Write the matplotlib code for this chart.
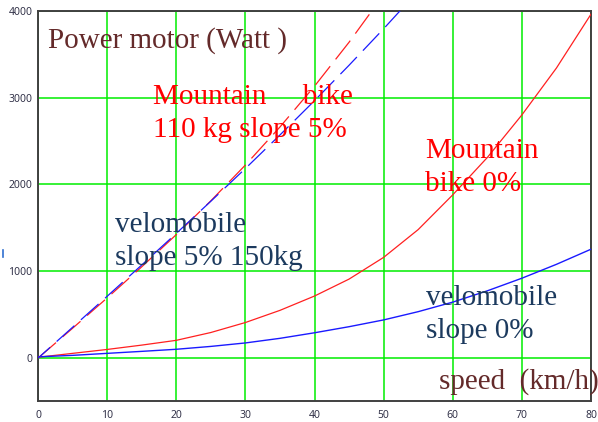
import matplotlib
matplotlib.use("Agg")
import matplotlib.pyplot as plt
from matplotlib.lines import Line2D

# ---- data ----
speed = [0, 5, 10, 15, 20, 25, 30, 35, 40, 45, 50, 55, 60, 65, 70, 75, 80]
mtb_flat = [10, 55, 100, 150, 205, 295, 410, 550, 715, 910, 1160, 1480, 1880, 2310, 2800, 3340, 3960]
velo_flat = [15, 32, 55, 78, 102, 135, 175, 228, 292, 362, 440, 535, 645, 775, 920, 1080, 1254]

speed_mtb_slope = [0, 5, 10, 15, 20, 25, 30, 35, 40, 45, 50]
mtb_slope = [0, 344, 693, 1051, 1422, 1811, 2223, 2661, 3131, 3637, 4184]
speed_velo_slope = [0, 5, 10, 15, 20, 25, 30, 35, 40, 45, 50, 55]
velo_slope = [0, 355, 712, 1072, 1436, 1806, 2183, 2569, 2964, 3372, 3792, 4227]

x_ticks = [0, 10, 20, 30, 40, 50, 60, 70, 80]
y_ticks = [0, 1000, 2000, 3000, 4000]

W, H = 598, 422
fig = plt.figure(figsize=(W / 100, H / 100), dpi=100)
ax = fig.add_axes([38 / W, 1 - 400.7 / H, (591 - 38) / W, (400.7 - 10.7) / H])

ax.set_xlim(0, 80)
ax.set_ylim(-490, 4000)
ax.set_xticks(x_ticks)
ax.set_yticks(y_ticks)
ax.grid(True, color="#00ee00", lw=1.1, zorder=0)
ax.set_axisbelow(True)
ax.tick_params(length=0, labelsize=7.5, labelcolor="#34344a")
ax.tick_params(axis="y", pad=4)
ax.tick_params(axis="x", pad=7)
for lab in ax.get_xticklabels() + ax.get_yticklabels():
    lab.set_fontfamily("Noto Sans")
for s in ax.spines.values():
    s.set_color("#404040")
    s.set_linewidth(1.4)

ax.plot(speed, mtb_flat, color="#ff2020", lw=0.9, zorder=3)
ax.plot(speed, velo_flat, color="#1a1aff", lw=1.0, zorder=3)
ax.plot(speed_mtb_slope, mtb_slope, color="#ff2020", lw=0.9, zorder=3,
        linestyle=(0, (19, 7)))
ax.plot(speed_velo_slope, velo_slope, color="#1a1aff", lw=0.9, zorder=3,
        linestyle=(6, (19, 7)))

serif = "Liberation Serif"
brown = "#642a2a"
navy = "#1c3a5e"
fs = 21


def ftext(x, y, s, color, **kw):
    fig.text(x / W, 1 - y / H, s, color=color, fontsize=fs, family=serif,
             va="baseline", ha="left", **kw)


ftext(48, 48, "Power motor (Watt )", brown)
ftext(153, 104, "Mountain     bike", "#ff0000")
ftext(153, 137, "110 kg slope 5%", "#ff0000")
ftext(425, 158, "Mountain", "#ff0000")
ftext(425, 191, "bike 0%", "#ff0000")
ftext(115, 232, "velomobile", navy)
ftext(115, 265, "slope 5% 150kg", navy)
ftext(426, 305, "velomobile", navy)
ftext(426, 338, "slope 0%", navy)
ftext(439, 389, "speed  (km/h)", brown)

fig.add_artist(Line2D([3 / W, 3 / W], [1 - 250 / H, 1 - 257 / H], color="#3070d0", lw=1.2))

fig.savefig("out.png", dpi=100)
